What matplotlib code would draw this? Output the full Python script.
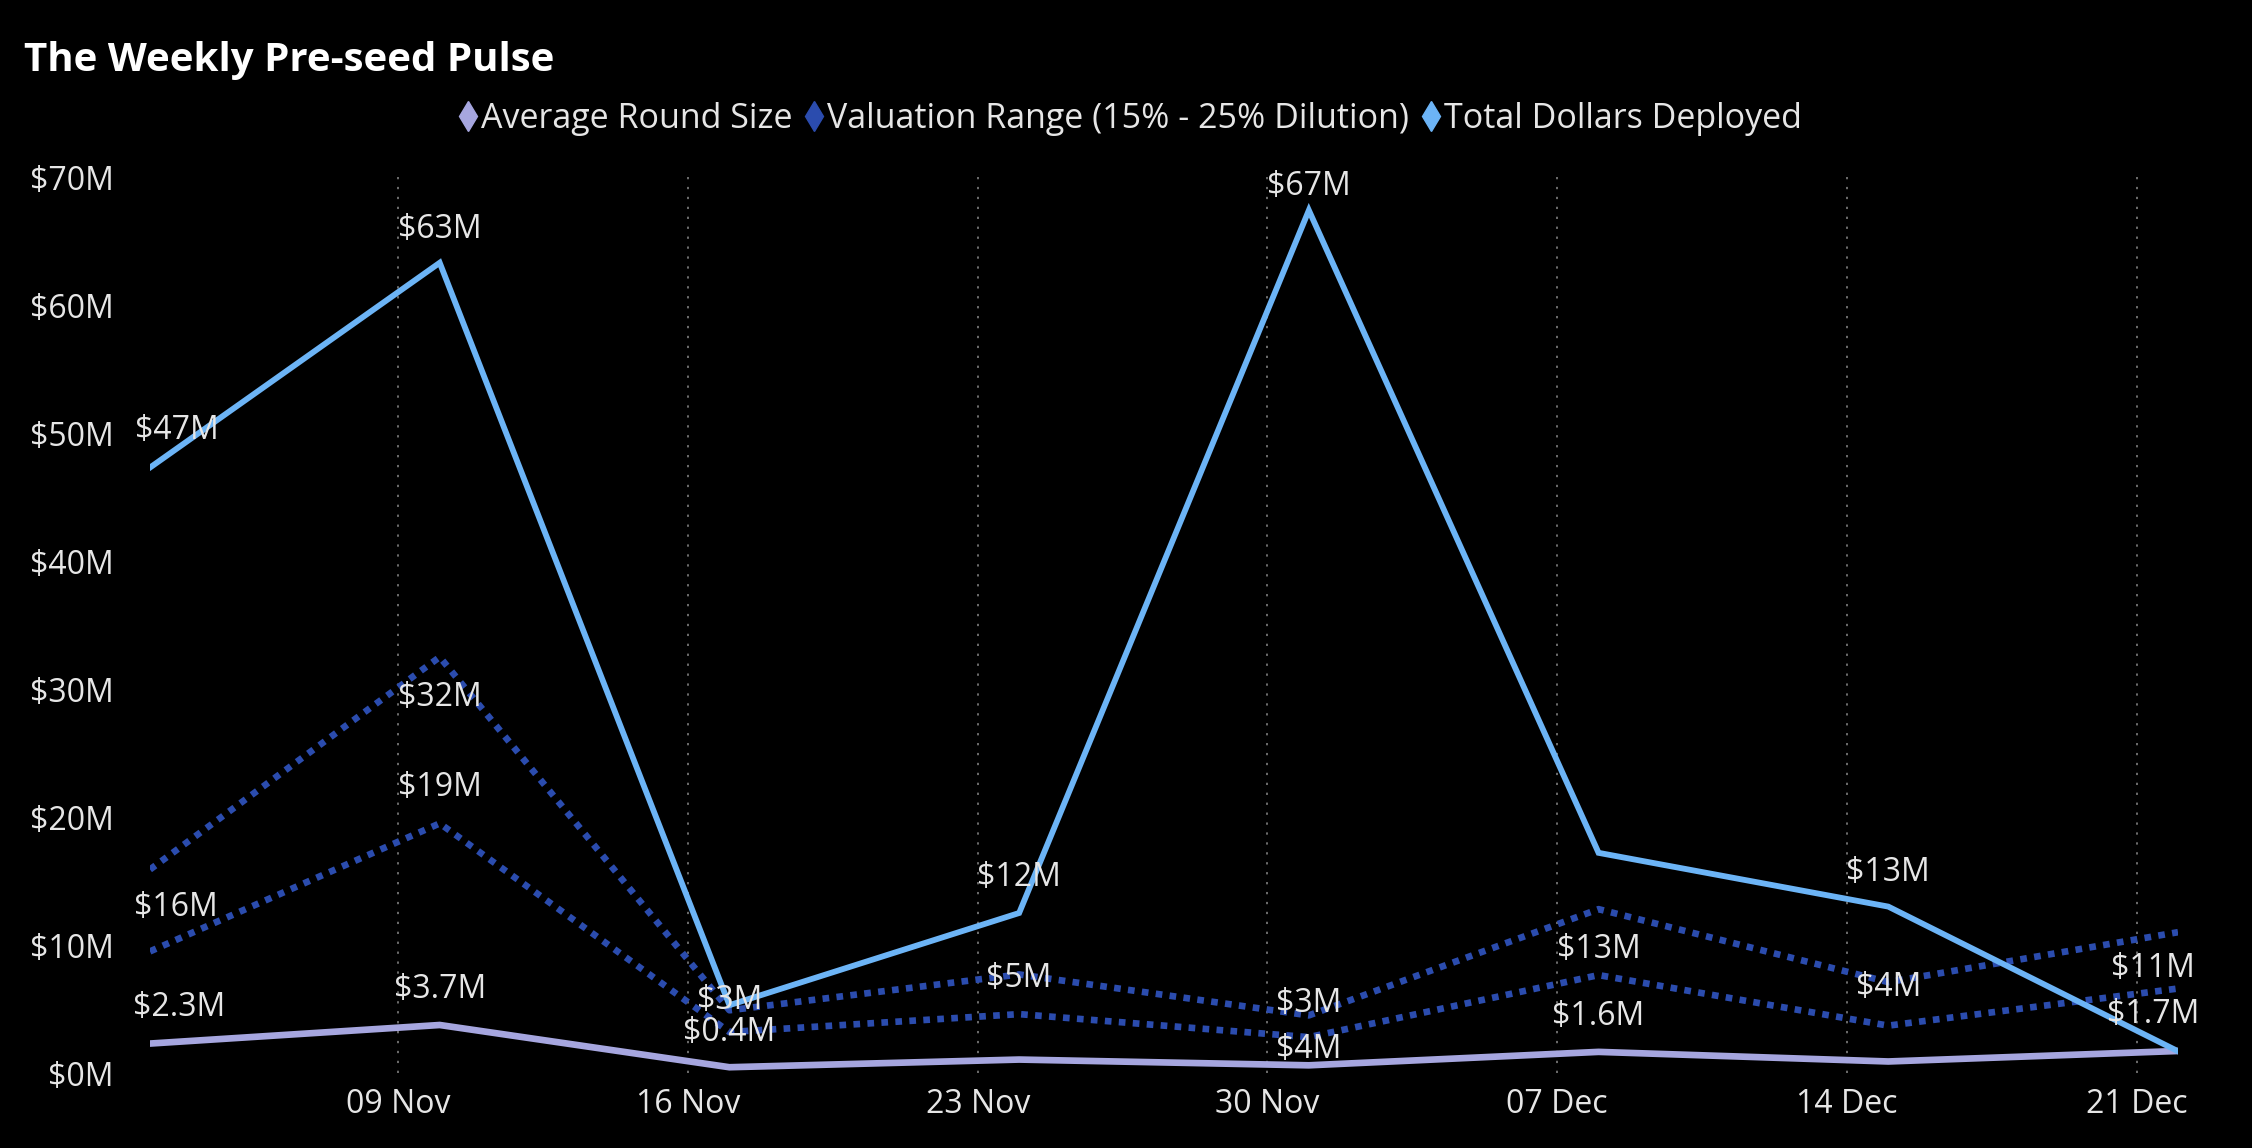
import numpy as np
import pandas as pd
import matplotlib
matplotlib.use("Agg")
import matplotlib.pyplot as plt
import matplotlib.dates as mdates
from matplotlib.lines import Line2D
from matplotlib.ticker import FuncFormatter

# ---------------- data (values in $M) ----------------
weeks = pd.to_datetime(["2020-11-03", "2020-11-10", "2020-11-17", "2020-11-24",
                        "2020-12-01", "2020-12-08", "2020-12-15", "2020-12-22"])
total_deployed = [47.3, 63.3, 5.3, 12.5, 67.4, 17.2, 13.0, 1.7]
valuation_high = [15.9, 32.5, 4.9, 7.7, 4.5, 12.8, 7.1, 11.0]
valuation_low = [9.5, 19.5, 3.2, 4.6, 2.8, 7.65, 3.7, 6.6]
avg_round = [2.3, 3.75, 0.45, 1.05, 0.6, 1.65, 0.9, 1.72]

tick_dates = pd.to_datetime(["2020-11-09", "2020-11-16", "2020-11-23", "2020-11-30",
                             "2020-12-07", "2020-12-14", "2020-12-21"])
y_ticks = [0, 10, 20, 30, 40, 50, 60, 70]

legend_labels = ["Average Round Size", "Valuation Range (15% - 25% Dilution)",
                 "Total Dollars Deployed"]
title = "The Weekly Pre-seed Pulse"

# data labels: (series, index, text, dx_px, dy_px)  (dy positive = down)
data_labels = [
    ("total", 0, "$47M", 27, -37),
    ("total", 1, "$63M", 0, -33),
    ("high", 1, "$32M", 0, 40),
    ("low", 1, "$19M", 0, -36),
    ("high", 0, "$16M", 26, 38),
    ("avg", 0, "$2.3M", 29, -36),
    ("avg", 1, "$3.7M", 0, -35),
    ("low", 2, "$3M", 0, -32),
    ("avg", 2, "$0.4M", 0, -35),
    ("total", 3, "$12M", 0, -36),
    ("low", 3, "$5M", 0, -36),
    ("total", 4, "$67M", 0, -24),
    ("low", 4, "$3M", 0, -34),
    ("high", 4, "$4M", 0, 34),
    ("high", 5, "$13M", 0, 40),
    ("avg", 5, "$1.6M", 0, -35),
    ("total", 6, "$13M", 0, -34),
    ("low", 6, "$4M", 0, -38),
    ("high", 7, "$11M", -25, 36),
    ("total", 7, "$1.7M", -25, -37),
]

# ---------------- style ----------------
plt.rcParams['font.family'] = ['Open Sans', 'DejaVu Sans']
BG = "#000000"
C_TOTAL = "#6CB4F6"
C_VAL = "#2B4CAE"
C_AVG = "#A6A6DF"
C_TEXT = "#E6E6E6"
FS = 23

DPI = 100
fig = plt.figure(figsize=(22.52, 11.48), dpi=DPI, facecolor=BG)
ax = fig.add_axes([150 / 2252, 1 - 1073 / 1148, (2178 - 150) / 2252, (1073 - 177) / 1148])
ax.set_facecolor(BG)

series = {
    "total": total_deployed,
    "high": valuation_high,
    "low": valuation_low,
    "avg": avg_round,
}

ax.plot(weeks, valuation_high, color=C_VAL, lw=4.8, linestyle=(0, (1.0, 1.1)),
        solid_capstyle='butt', dash_capstyle='butt', zorder=3)
ax.plot(weeks, valuation_low, color=C_VAL, lw=4.8, linestyle=(0, (1.0, 1.1)),
        solid_capstyle='butt', dash_capstyle='butt', zorder=3)
ax.plot(weeks, avg_round, color=C_AVG, lw=4.8, solid_joinstyle='miter', zorder=4)
ax.plot(weeks, total_deployed, color=C_TOTAL, lw=4.2, solid_joinstyle='miter', zorder=5)

ax.set_xlim(weeks[0], weeks[-1])
ax.set_ylim(0, 70)
ax.set_yticks(y_ticks)
ax.yaxis.set_major_formatter(FuncFormatter(lambda v, p: f"${int(v)}M"))
ax.set_xticks(tick_dates)
ax.xaxis.set_major_formatter(mdates.DateFormatter("%d %b"))

ax.tick_params(axis='both', length=0, colors=C_TEXT, labelsize=FS)
ax.tick_params(axis='y', pad=26)
ax.tick_params(axis='x', pad=11)
for s in ax.spines.values():
    s.set_visible(False)
ax.grid(axis='x', color="#8A8A8A", lw=1.1, linestyle=(0, (1.5, 5)))
ax.grid(axis='y', visible=False)

for key, i, txt, dx, dy in data_labels:
    ax.annotate(txt, (weeks[i], series[key][i]),
                xytext=(dx * 72 / DPI, -dy * 72 / DPI), textcoords='offset points',
                ha='center', va='center', color=C_TEXT, fontsize=FS, zorder=6,
                annotation_clip=False)

fig.text(24 / 2252, 1 - 60 / 1148, title, color="white", fontsize=29,
         fontweight='bold', ha='left', va='center')

handles = [
    Line2D([], [], marker='d', color=C_AVG, linestyle='None', markersize=15),
    Line2D([], [], marker='d', color=C_VAL, linestyle='None', markersize=15),
    Line2D([], [], marker='d', color=C_TOTAL, linestyle='None', markersize=15),
]
leg = fig.legend(handles, legend_labels, loc='center', bbox_to_anchor=(0.5025, 1 - 119 / 1148),
                 ncol=3, frameon=False, fontsize=24.5, handlelength=0.4, handletextpad=0.18,
                 columnspacing=0.45, labelcolor=C_TEXT)

fig.savefig("out.png", dpi=DPI, facecolor=BG)
